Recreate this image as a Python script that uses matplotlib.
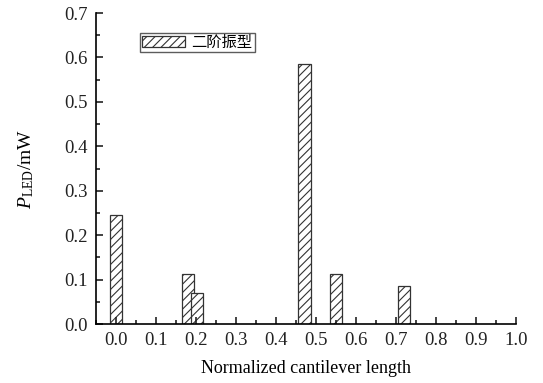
import matplotlib.pyplot as plt
from matplotlib.ticker import MultipleLocator

plt.rcParams['font.family'] = ['Liberation Serif', 'Noto Sans CJK SC']
plt.rcParams['mathtext.fontset'] = 'custom'
plt.rcParams['mathtext.rm'] = 'Liberation Serif'
plt.rcParams['mathtext.it'] = 'Liberation Serif:italic'
plt.rcParams['hatch.linewidth'] = 0.8
plt.rcParams['hatch.color'] = '#333333'

# bar positions and heights
x = [0.0, 0.18, 0.2025, 0.471, 0.55, 0.72]
p_led = [0.245, 0.113, 0.07, 0.585, 0.113, 0.085]
label = '二阶振型'
xticks = [0.0, 0.1, 0.2, 0.3, 0.4, 0.5, 0.6, 0.7, 0.8, 0.9, 1.0]

fig = plt.figure(figsize=(5.43, 3.83), dpi=100)
ax = fig.add_axes([0.177, 0.154, 0.773, 0.812])

ax.bar(x, p_led, width=0.032, color='white', edgecolor='#333333',
       linewidth=0.9, hatch='////', label=label)

ax.set_xlim(-0.05, 1.0)
ax.set_ylim(0, 0.7)
ax.set_xticks(xticks)
ax.set_xticklabels([f'{t:.1f}' for t in xticks])
ax.xaxis.set_minor_locator(MultipleLocator(0.05))
ax.yaxis.set_major_locator(MultipleLocator(0.1))
ax.yaxis.set_minor_locator(MultipleLocator(0.05))
ax.yaxis.set_major_formatter(plt.FuncFormatter(lambda v, p: f'{v:.1f}'))

ax.spines['top'].set_visible(False)
ax.spines['right'].set_visible(False)
ax.spines['left'].set_linewidth(1.2)
ax.spines['bottom'].set_linewidth(1.2)
ax.tick_params(which='both', direction='in', labelsize=13.5, colors='#222222')
ax.tick_params(which='major', length=5, width=1.2, pad=6)
ax.tick_params(which='minor', length=3, width=1.2)

ax.set_xlabel('Normalized cantilever length', fontsize=13, labelpad=8)
ax.set_ylabel(r'$P_{\mathrm{LED}}$/mW', fontsize=14, labelpad=20)

leg = ax.legend(loc='upper left', bbox_to_anchor=(0.105, 0.935), fontsize=11,
                frameon=True, fancybox=False, edgecolor='#333333',
                handlelength=2.8, handleheight=0.8, borderpad=0.15,
                handletextpad=0.4, borderaxespad=0)
leg.get_frame().set_linewidth(1.0)

fig.savefig('out.png', dpi=100)
